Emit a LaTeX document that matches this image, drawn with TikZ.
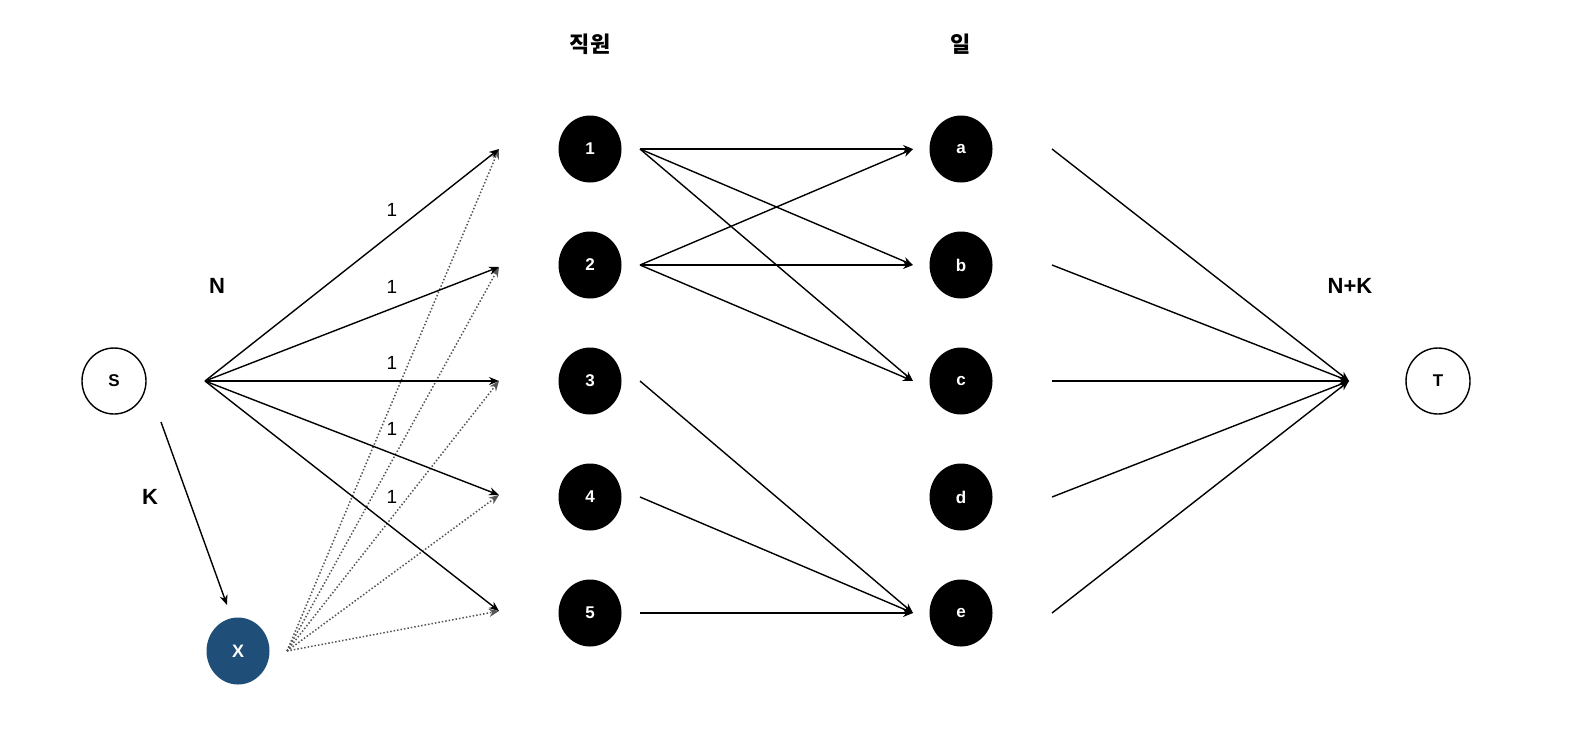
\documentclass[tikz,border=0pt]{standalone}
\usepackage{fontspec}
\setmainfont{Liberation Sans}
\newfontfamily\kr{Noto Sans CJK KR}
\usetikzlibrary{arrows.meta,shapes.geometric}
\definecolor{xblue}{HTML}{1F4E79}
\definecolor{dotgray}{HTML}{555555}
\begin{document}
\begin{tikzpicture}[x=1pt,y=-1pt,
  wnode/.style={ellipse,draw=black,line width=1.4pt,fill=white,minimum width=64pt,minimum height=66pt,inner sep=0pt,font=\fontsize{17}{19}\selectfont\bfseries},
  bnode/.style={ellipse,fill=black,text=white,minimum width=63pt,minimum height=67pt,inner sep=0pt,font=\fontsize{17}{19}\selectfont\bfseries},
  xnode/.style={ellipse,fill=xblue,text=white,minimum width=63pt,minimum height=67pt,inner sep=0pt,font=\fontsize{18}{20}\selectfont\bfseries},
  conn/.style={line width=1.4pt,-{Stealth[length=10pt,width=8pt]}},
  dconn/.style={dotgray,line width=1.5pt,dotted,-{Stealth[length=10pt,width=8pt]}},
  lbl/.style={font=\fontsize{19}{21}\selectfont},
  blbl/.style={font=\fontsize{22}{24}\selectfont\bfseries},
  head/.style={font=\kr\fontsize{22}{24}\selectfont\bfseries}
]
\useasboundingbox (0,0) rectangle (1570,748);
% nodes
\node[wnode] (S) at (114,381) {S};
\node[wnode] (T) at (1438,381) {T};
\node[xnode] (X) at (238,651) {X};
\foreach \n/\y in {1/149,2/265,3/381,4/497,5/613}{
  \node[bnode] (w\n) at (590,\y) {\n};
}
\foreach \n/\y in {a/149,b/265,c/381,d/497,e/613}{
  \node[bnode] (j\n) at (961,\y) {\n};
}
% headers and labels
\node[head] (hw) at (590,44) {직원};
\node[head] (hj) at (961,44) {일};
\node[blbl] (lN) at (217,286) {N};
\node[blbl] (lK) at (150,497) {K};
\node[blbl] (lNK) at (1350,286) {N+K};
\node[lbl] (l1) at (392,210) {1};
\node[lbl] (l2) at (392,287) {1};
\node[lbl] (l3) at (392,363) {1};
\node[lbl] (l4) at (392,429) {1};
\node[lbl] (l5) at (392,497) {1};
% coordinates
\coordinate (hub) at (205,381);
\coordinate (xs) at (287,651);
\coordinate (ss) at (161,422);
\coordinate (se) at (227,605);
\foreach \n/\y in {1/149,2/267,3/381,4/495,5/611}{
  \coordinate (in\n) at (499,\y);
}
\foreach \n/\y in {1/149,2/265,3/381,4/497,5/613}{
  \coordinate (wo\n) at (640,\y);
}
\foreach \n/\y in {a/149,b/265,c/381,d/497,e/613}{
  \coordinate (ji\n) at (913,\y);
  \coordinate (jo\n) at (1052,\y);
}
\coordinate (tin) at (1349,381);
% edges
\draw[conn] (ss) -- (se);
\foreach \n in {1,...,5}{
  \draw[dconn] (xs) -- (in\n);
}
\foreach \n in {1,...,5}{
  \draw[conn] (hub) -- (in\n);
}
\draw[conn] (wo1) -- (jia);
\draw[conn] (wo1) -- (jib);
\draw[conn] (wo1) -- (jic);
\draw[conn] (wo2) -- (jia);
\draw[conn] (wo2) -- (jib);
\draw[conn] (wo2) -- (jic);
\draw[conn] (wo3) -- (jie);
\draw[conn] (wo4) -- (jie);
\draw[conn] (wo5) -- (jie);
\foreach \n in {a,b,c,d,e}{
  \draw[conn] (jo\n) -- (tin);
}
\end{tikzpicture}
\end{document}
